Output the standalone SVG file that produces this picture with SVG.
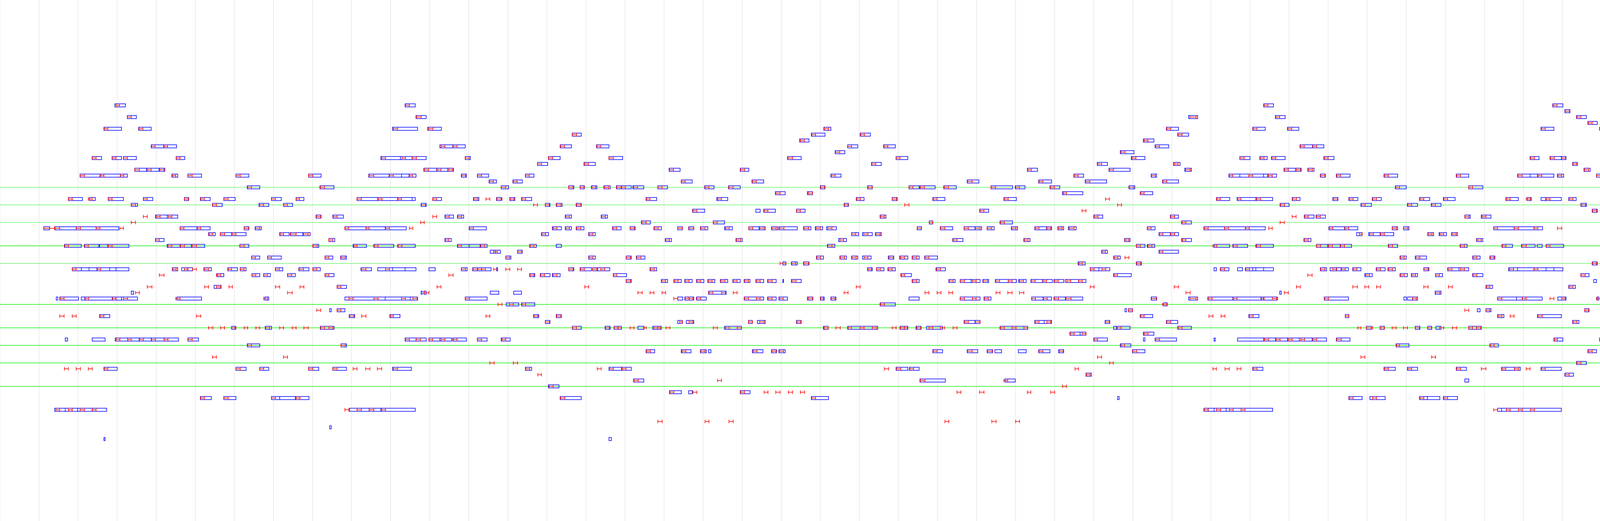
<svg xmlns="http://www.w3.org/2000/svg" width="6967" height="1335" viewBox="0 0 6967 1335">
<style>
.bg{fill:#fff}
.grid{fill:none;stroke:#e8e8e8;stroke-width:1.5}
.gl{fill:none;stroke:#22ee22;stroke-width:1}
.gh{fill:none;stroke:#11ee11;stroke-width:1.6}
.b{fill:none;stroke:#0000ff;stroke-width:1.5}
.r{fill:none;stroke:#ff0000;stroke-width:1.5;marker-start:url(#t);marker-mid:url(#t);marker-end:url(#t)}
</style>
<defs>
<marker id="t" markerUnits="userSpaceOnUse" markerWidth="4" markerHeight="10" refX="2" refY="5" overflow="visible"><path d="M2 0.5V9.5" stroke="#ff0000" stroke-width="1.5" fill="none"/></marker>
</defs>
<rect class="bg" x="0" y="0" width="6967" height="1335"/>
<g id="grid">
<path class="grid" d="M0 0V1335M100 0V1335M200 0V1335M300 0V1335M400 0V1335M500 0V1335M600 0V1335M700 0V1335M800 0V1335M900 0V1335M1000 0V1335M1100 0V1335M1200 0V1335M1300 0V1335M1400 0V1335M1500 0V1335M1600 0V1335M1700 0V1335M1800 0V1335M1900 0V1335M2000 0V1335M2100 0V1335M2200 0V1335M2300 0V1335M2400 0V1335M2500 0V1335M2600 0V1335M2700 0V1335M2800 0V1335M2900 0V1335M3000 0V1335M3100 0V1335M3200 0V1335M3300 0V1335M3400 0V1335M3500 0V1335M3600 0V1335M3700 0V1335M3800 0V1335M3900 0V1335M4000 0V1335M4100 0V1335M4200 0V1335M4300 0V1335M4400 0V1335M4500 0V1335M4600 0V1335M4700 0V1335M4800 0V1335M4900 0V1335M5000 0V1335M5100 0V1335M5200 0V1335M5300 0V1335M5400 0V1335M5500 0V1335M5600 0V1335M5700 0V1335M5800 0V1335M5900 0V1335M6000 0V1335M6100 0V1335M6200 0V1335M6300 0V1335M6400 0V1335M6500 0V1335M6600 0V1335M6700 0V1335M6800 0V1335"/>
<path class="gl" d="M0 480H6967M0 525H6967M0 570H6967M0 675H6967"/>
<path class="gh" d="M0 630H6967M0 780H6967M0 840H6967M0 885H6967M0 930H6967M0 990H6967"/>
</g>
<g id="rows">
<g id="r150" transform="translate(0,150)"><path class="b" d="M6477-4h39v8h-39z"/><path class="r" d="M6478 0h32"/></g>
<g id="r225" transform="translate(0,225)"><path class="r" d="M6478 0h32"/></g>
<g id="r270" transform="translate(0,270)"><path class="b" d="M294-4h27v8h-27zM1037-4h26v8h-26zM3235-4h25v8h-25zM3975-4h26v8h-26zM4308-4h32v8h-32zM5014-4h36v8h-36zM5753-4h36v8h-36z"/><path class="r" d="M297 0h9M1038 0h10M3236 0h10M3976 0h10M4308 0h11M5015 0h11M5753 0h11"/></g>
<g id="r285" transform="translate(0,285)"><path class="b" d="M4006-4h13v8h-13z"/><path class="r" d="M4007 0h11"/></g>
<g id="r300" transform="translate(0,300)"><path class="b" d="M326-4h23v8h-23zM1065-4h26v8h-26zM3043-4h23v8h-23zM3265-4h25v8h-25zM4036-4h25v8h-25zM4278-4h23v8h-23zM4340-4h24v8h-24zM5044-4h29v8h-29zM5783-4h41v8h-41z"/><path class="r" d="M326 0h10M1066 0h12M3046 0h16M3266 0h10M4037 0h10M4279 0h10M4340 0h10M5045 0h11M5785 0h10"/></g>
<g id="r315" transform="translate(0,315)"><path class="b" d="M4065-4h24v8h-24zM5815-4h25v8h-25zM5846-4h33v8h-33z"/><path class="r" d="M4066 0h10M5816 0h10M5847 0h10"/></g>
<g id="r330" transform="translate(0,330)"><path class="b" d="M266-4h45v8h-45zM355-4h32v8h-32zM1005-4h64v8h-64zM1095-4h35v8h-35zM2109-4h18v8h-18zM2986-4h31v8h-31zM3207-4h32v8h-32zM3296-4h29v8h-29zM3945-4h33v8h-33zM4095-4h33v8h-33zM4247-4h19v8h-19zM4982-4h33v8h-33zM5076-4h29v8h-29zM5105-4h25v8h-25zM5719-4h34v8h-34zM5876-4h22v8h-22zM6477-4h35v8h-35z"/><path class="r" d="M267 0h9M356 0h10M1007 0h11M1097 0h11M2110 0h11M2987 0h10M3208 0h10M3297 0h10M3946 0h10M4097 0h9M4248 0h10M4983 0h10M5077 0h10M5107 0h11M5720 0h9M5877 0h10M6478 0h32"/></g>
<g id="r345" transform="translate(0,345)"><path class="b" d="M1465-4h23v8h-23zM2077-4h35v8h-35zM2202-4h26v8h-26zM3015-4h28v8h-28zM4125-4h25v8h-25zM4218-4h32v8h-32zM4401-4h25v8h-25zM5135-4h30v8h-30zM5824-4h16v8h-16z"/><path class="r" d="M1465 0h11M2078 0h10M2203 0h10M3016 0h10M4126 0h10M4219 0h10M4401 0h9M5136 0h11"/></g>
<g id="r360" transform="translate(0,360)"><path class="b" d="M2047-4h24v8h-24zM2927-4h27v8h-27zM4157-4h26v8h-26z"/><path class="r" d="M2049 0h10M2929 0h10M4157 0h10"/></g>
<g id="r375" transform="translate(0,375)"><path class="b" d="M387-4h32v8h-32zM419-4h33v8h-33zM1126-4h33v8h-33zM1159-4h32v8h-32zM1434-4h29v8h-29zM1527-4h32v8h-32zM2170-4h26v8h-26zM2262-4h30v8h-30zM2957-4h35v8h-35zM3328-4h32v8h-32zM3360-4h29v8h-29zM4186-4h25v8h-25zM4297-4h14v8h-14zM4330-4h13v8h-13zM4368-4h25v8h-25zM4432-4h26v8h-26zM4801-4h21v8h-21zM5167-4h30v8h-30zM5197-4h26v8h-26zM5535-4h24v8h-24zM5908-4h27v8h-27zM5935-4h30v8h-30z"/><path class="r" d="M388 0h9M420 0h9M1129 0h10M1160 0h10M1435 0h10M1528 0h10M2170 0h10M2263 0h10M2958 0h10M3329 0h10M3361 0h10M4187 0h10M4299 0h11M4330 0h11M4369 0h11M4433 0h7M4802 0h9M5169 0h9M5198 0h10M5536 0h11M5908 0h10M5937 0h12"/></g>
<g id="r390" transform="translate(0,390)"><path class="b" d="M2138-4h25v8h-25zM2868-4h35v8h-35zM4615-4h29v8h-29zM5037-4h32v8h-32zM5350-4h26v8h-26zM5772-4h46v8h-46zM5834-4h15v8h-15z"/><path class="r" d="M2139 0h11M2870 0h10M4617 0h9M5037 0h10M5353 0h10M5773 0h11M5805 0h12M5835 0h12"/></g>
<g id="r405" transform="translate(0,405)"><path class="b" d="M236-4h24v8h-24zM287-4h24v8h-24zM316-4h33v8h-33zM451-4h22v8h-22zM975-4h50v8h-50zM1025-4h30v8h-30zM1055-4h36v8h-36zM1191-4h13v8h-13zM1404-4h30v8h-30zM1559-4h35v8h-35zM2016-4h35v8h-35zM2294-4h30v8h-30zM2896-4h35v8h-35zM3174-4h26v8h-26zM3225-4h19v8h-19zM3255-4h35v8h-35zM3389-4h26v8h-26zM3917-4h23v8h-23zM3968-4h29v8h-29zM3997-4h12v8h-12zM4585-4h30v8h-30zM4646-4h26v8h-26zM4767-4h26v8h-26zM4828-4h30v8h-30zM4954-4h25v8h-25zM5005-4h35v8h-35zM5228-4h26v8h-26zM5321-4h27v8h-27zM5382-4h30v8h-30zM5504-4h26v8h-26zM5565-4h26v8h-26zM5689-4h24v8h-24zM5739-4h18v8h-18zM5968-4h23v8h-23zM6061-4h41v8h-41z"/><path class="r" d="M236 0h10M287 0h10M316 0h10M451 0h10M977 0h10M1029 0h9M1055 0h11M1191 0h10M1404 0h11M1559 0h11M2017 0h12M2294 0h10M2898 0h10M3174 0h11M3226 0h10M3256 0h10M3390 0h10M3918 0h10M3969 0h10M3998 0h10M4586 0h9M4647 0h9M4771 0h10M4830 0h11M4955 0h9M5006 0h10M5229 0h10M5322 0h10M5383 0h10M5505 0h11M5566 0h10M5690 0h10M5740 0h12M5969 0h11M6062 0h10"/></g>
<g id="r420" transform="translate(0,420)"><path class="b" d="M1376-4h26v8h-26zM1495-4h29v8h-29zM2231-4h25v8h-25zM2809-4h26v8h-26zM3004-4h17v8h-17zM4026-4h12v8h-12zM4676-4h25v8h-25zM4860-4h23v8h-23zM5412-4h24v8h-24zM5596-4h24v8h-24zM5865-4h14v8h-14zM5895-4h16v8h-16zM6118-4h54v8h-54z"/><path class="r" d="M1376 0h10M1496 0h10M2232 0h10M2810 0h10M3007 0h9M4027 0h10M4677 0h10M4861 0h11M5413 0h11M5597 0h10M5866 0h12M5896 0h12M6119 0h10"/></g>
<g id="r435" transform="translate(0,435)"><path class="b" d="M345-4h30v8h-30zM375-4h32v8h-32zM407-4h15v8h-15zM1085-4h33v8h-33zM1118-4h28v8h-28zM1146-4h15v8h-15zM1713-4h28v8h-28zM1895-4h22v8h-22zM2630-4h26v8h-26zM2839-4h54v8h-54zM3033-4h17v8h-17zM3287-4h29v8h-29zM3316-4h15v8h-15zM3348-4h16v8h-16zM4055-4h16v8h-16zM4358-4h29v8h-29zM4707-4h23v8h-23zM4892-4h24v8h-24zM5261-4h26v8h-26zM5443-4h26v8h-26zM5626-4h26v8h-26zM6176-4h52v8h-52z"/><path class="r" d="M345 0h12M377 0h10M409 0h11M1086 0h11M1119 0h10M1149 0h10M1714 0h10M1896 0h10M2631 0h9M2840 0h10M3035 0h12M3288 0h10M3319 0h10M3349 0h11M4056 0h11M4359 0h10M4708 0h10M4893 0h9M5261 0h10M5444 0h10M5627 0h10M6177 0h10"/></g>
<g id="r450" transform="translate(0,450)"><path class="b" d="M205-4h51v8h-51zM256-4h52v8h-52zM308-4h18v8h-18zM440-4h15v8h-15zM481-4h35v8h-35zM604-4h33v8h-33zM790-4h32v8h-32zM944-4h52v8h-52zM996-4h32v8h-32zM1028-4h19v8h-19zM1047-4h18v8h-18zM1181-4h13v8h-13zM1222-4h29v8h-29zM1345-4h22v8h-22zM2127-4h26v8h-26zM2749-4h25v8h-25zM2947-4h14v8h-14zM3146-4h28v8h-28zM3174-4h61v8h-61zM3235-4h10v8h-10zM3245-4h23v8h-23zM3380-4h13v8h-13zM3421-4h35v8h-35zM3543-4h35v8h-35zM3728-4h32v8h-32zM3885-4h32v8h-32zM3917-4h19v8h-19zM3936-4h42v8h-42zM3987-4h16v8h-16zM4087-4h16v8h-16zM4176-4h35v8h-35zM4320-4h23v8h-23zM4493-4h20v8h-20zM4740-4h32v8h-32zM4922-4h32v8h-32zM4973-4h16v8h-16zM5066-4h32v8h-32zM5098-4h13v8h-13zM5289-4h26v8h-26zM5475-4h41v8h-41zM5658-4h38v8h-38zM5708-4h36v8h-36zM6234-4h51v8h-51zM6352-4h125v8h-125zM6477-4h39v8h-39zM6573-4h19v8h-19z"/><path class="r" d="M205 0h11M257 0h9M308 0h9M441 0h9M481 0h11M604 0h11M790 0h11M945 0h12M997 0h10M1048 0h8M1182 0h10M1222 0h11M1345 0h10M2128 0h10M2750 0h10M2948 0h10M3147 0h9M3197 0h10M3247 0h10M3381 0h11M3422 0h10M3544 0h10M3729 0h10M3886 0h11M3937 0h10M3988 0h10M4087 0h11M4177 0h10M4320 0h9M4494 0h10M4741 0h9M4923 0h11M4974 0h11M5067 0h11M5099 0h9M5292 0h10M5476 0h10M5659 0h10M5710 0h10M6235 0h11M6353 0h10M6478 0h32"/></g>
<g id="r465" transform="translate(0,465)"><path class="b" d="M1252-4h19v8h-19zM1313-4h24v8h-24zM1744-4h28v8h-28zM1925-4h30v8h-30zM2476-4h30v8h-30zM2659-4h33v8h-33zM2778-4h55v8h-55zM2976-4h41v8h-41zM4115-4h17v8h-17zM5127-4h16v8h-16zM5156-4h13v8h-13zM5188-4h13v8h-13zM6291-4h51v8h-51z"/><path class="r" d="M1253 0h10M1314 0h10M1744 0h10M1926 0h10M2477 0h12M2660 0h10M2779 0h11M2977 0h10M4116 0h12M5127 0h11M5157 0h10M5188 0h11M6293 0h9"/></g>
<g id="r480" transform="translate(0,480)"><path class="b" d="M633-4h32v8h-32zM819-4h36v8h-36zM1283-4h19v8h-19zM1456-4h13v8h-13zM1485-4h11v8h-11zM1514-4h14v8h-14zM1546-4h16v8h-16zM1578-4h13v8h-13zM1591-4h25v8h-25zM1620-4h28v8h-28zM1684-4h25v8h-25zM1804-4h24v8h-24zM1865-4h30v8h-30zM2100-4h12v8h-12zM2221-4h12v8h-12zM2327-4h26v8h-26zM2355-4h39v8h-39zM2416-4h32v8h-32zM2537-4h55v8h-55zM2599-4h25v8h-25zM2688-4h25v8h-25zM2890-4h15v8h-15zM3572-4h28v8h-28zM3760-4h36v8h-36zM4147-4h17v8h-17zM4208-4h13v8h-13zM4237-4h19v8h-19zM4266-4h21v8h-21zM4287-4h18v8h-18zM4349-4h15v8h-15zM4391-4h12v8h-12zM4419-4h17v8h-17zM4452-4h9v8h-9zM4461-4h23v8h-23zM5218-4h14v8h-14z"/><path class="r" d="M634 0h10M820 0h11M1283 0h12M1456 0h11M1485 0h10M1515 0h10M1547 0h11M1579 0h11M1591 0h10M1622 0h10M1684 0h11M1805 0h10M1866 0h11M2101 0h10M2222 0h11M2327 0h10M2356 0h10M2417 0h11M2537 0h12M2600 0h10M2689 0h10M2891 0h11M3573 0h10M3760 0h10M4148 0h10M4208 0h11M4238 0h10M4267 0h10M4289 0h11M4350 0h8M4391 0h10M4420 0h12M4452 0h9M4462 0h10M5220 0h9"/></g>
<g id="r495" transform="translate(0,495)"><path class="b" d="M1985-4h25v8h-25zM2067-4h13v8h-13zM2720-4h52v8h-52zM2919-4h32v8h-32z"/><path class="r" d="M1986 0h11M2069 0h11M2722 0h8M2920 0h9"/></g>
<g id="r510" transform="translate(0,510)"><path class="b" d="M175-4h36v8h-36zM229-4h15v8h-15zM277-4h39v8h-39zM367-4h24v8h-24zM472-4h11v8h-11zM513-4h25v8h-25zM573-4h29v8h-29zM695-4h25v8h-25zM758-4h20v8h-20zM914-4h53v8h-53zM967-4h51v8h-51zM1018-4h37v8h-37zM1055-4h8v8h-8zM1108-4h22v8h-22zM1212-4h14v8h-14zM1271-4h12v8h-12zM1305-4h13v8h-13zM1335-4h26v8h-26zM1654-4h27v8h-27zM1835-4h28v8h-28zM2192-4h20v8h-20zM2284-4h13v8h-13zM2388-4h31v8h-31zM2570-4h32v8h-32zM3115-4h33v8h-33zM3167-4h48v8h-48zM3215-4h43v8h-43zM3308-4h20v8h-20zM3412-4h13v8h-13zM3453-4h23v8h-23zM3513-4h23v8h-23zM3634-4h26v8h-26zM3695-4h30v8h-30zM3855-4h32v8h-32zM3910-4h10v8h-10zM3945-4h12v8h-12zM3957-4h40v8h-40zM4016-4h19v8h-19zM4287-4h14v8h-14zM4320-4h10v8h-10zM4554-4h26v8h-26zM4605-4h15v8h-15zM4634-4h16v8h-16zM4761-4h11v8h-11zM4788-4h15v8h-15zM4820-4h16v8h-16zM4945-4h12v8h-12zM4995-4h23v8h-23zM5340-4h14v8h-14zM5372-4h13v8h-13zM5496-4h12v8h-12zM5524-4h16v8h-16zM5556-4h16v8h-16zM5680-4h20v8h-20zM5729-4h28v8h-28zM5929-4h20v8h-20zM5959-4h12v8h-12zM5988-4h16v8h-16zM6031-4h90v8h-90zM6148-4h28v8h-28zM6205-4h25v8h-25zM6265-4h22v8h-22zM6323-4h33v8h-33zM6384-4h93v8h-93zM6477-4h39v8h-39z"/><path class="r" d="M175 0h10M226 0h10M277 0h10M367 0h10M472 0h10M514 0h9M573 0h11M695 0h10M758 0h9M914 0h11M968 0h10M1019 0h9M1108 0h10M1213 0h10M1244 0h10M1272 0h13M1306 0h10M1336 0h10M1655 0h9M1837 0h10M2193 0h10M2284 0h11M2389 0h10M2571 0h10M2830 0h10M3114 0h10M3168 0h9M3217 0h10M3309 0h10M3413 0h11M3454 0h10M3514 0h10M3635 0h10M3696 0h10M3856 0h10M3907 0h11M3958 0h10M4017 0h10M4288 0h12M4320 0h9M4349 0h10M4555 0h10M4606 0h10M4636 0h11M4761 0h10M4789 0h11M4821 0h10M4945 0h10M4996 0h10M5312 0h11M5342 0h11M5373 0h11M5496 0h10M5525 0h11M5557 0h10M5681 0h10M5729 0h12M5930 0h10M5960 0h11M5989 0h11M6032 0h10M6090 0h10M6149 0h9M6206 0h10M6266 0h9M6324 0h9M6385 0h31M6478 0h32"/></g>
<g id="r525" transform="translate(0,525)"><path class="b" d="M336-4h16v8h-16zM544-4h25v8h-25zM663-4h25v8h-25zM726-4h23v8h-23zM1078-4h13v8h-13zM1396-4h12v8h-12zM1424-4h15v8h-15zM1475-4h13v8h-13zM2161-4h11v8h-11zM3277-4h23v8h-23zM3484-4h27v8h-27zM3603-4h26v8h-26zM3664-4h25v8h-25zM4047-4h14v8h-14zM4409-4h17v8h-17zM4522-4h26v8h-26zM4697-4h8v8h-8zM4727-4h9v8h-9zM4851-4h11v8h-11zM4881-4h12v8h-12zM4913-4h9v8h-9zM5027-4h17v8h-17zM5055-4h20v8h-20zM5282-4h7v8h-7zM5404-4h10v8h-10zM5434-4h10v8h-10zM5463-4h12v8h-12zM5587-4h10v8h-10zM5616-4h11v8h-11zM5645-4h10v8h-10zM5764-4h18v8h-18zM5796-4h18v8h-18zM5825-4h18v8h-18zM6000-4h25v8h-25z"/><path class="r" d="M336 0h11M544 0h10M664 0h11M726 0h10M1079 0h10M1366 0h10M1396 0h10M1425 0h11M1476 0h11M2162 0h9M2316 0h11M2861 0h10M3278 0h10M3485 0h10M3604 0h10M3665 0h10M4048 0h11M4410 0h10M4523 0h10M4667 0h11M4697 0h11M4727 0h13M4851 0h11M4881 0h12M4913 0h10M5281 0h12M5404 0h10M5434 0h10M5463 0h12M5587 0h10M5617 0h11M5645 0h14M5764 0h10M5797 0h10M5825 0h11M6000 0h10"/></g>
<g id="r540" transform="translate(0,540)"><path class="b" d="M1773-4h31v8h-31zM1935-4h11v8h-11zM1955-4h30v8h-30zM2039-4h22v8h-22zM2508-4h23v8h-23zM4076-4h13v8h-13zM5855-4h20v8h-20z"/><path class="r" d="M1774 0h10M1956 0h10M2039 0h10M2509 0h10M2770 0h10M4077 0h10M5856 0h10"/></g>
<g id="r555" transform="translate(0,555)"><path class="b" d="M398-4h30v8h-30zM428-4h27v8h-27zM809-4h13v8h-13zM852-4h27v8h-27zM1139-4h22v8h-22zM1171-4h16v8h-16zM1447-4h16v8h-16zM1539-4h16v8h-16zM2253-4h15v8h-15zM2800-4h23v8h-23zM2996-4h21v8h-21zM3339-4h25v8h-25zM3369-4h24v8h-24zM3750-4h14v8h-14zM3792-4h25v8h-25zM4105-4h23v8h-23zM4199-4h16v8h-16zM4228-4h22v8h-22zM4256-4h20v8h-20zM4381-4h12v8h-12zM4441-4h13v8h-13zM4482-4h13v8h-13zM4509-4h14v8h-14zM5084-4h26v8h-26zM5116-4h17v8h-17zM5178-4h13v8h-13zM5251-4h13v8h-13zM5888-4h22v8h-22z"/><path class="r" d="M367 0h10M400 0h10M431 0h9M810 0h11M853 0h10M1108 0h10M1140 0h10M1172 0h10M1448 0h10M1540 0h10M2254 0h10M2801 0h10M2997 0h10M3308 0h10M3340 0h9M3370 0h10M3750 0h11M3794 0h10M4106 0h10M4199 0h10M4229 0h10M4257 0h11M4381 0h11M4442 0h11M4484 0h10M4510 0h11M5085 0h10M5117 0h10M5179 0h10M5252 0h11M5888 0h10"/></g>
<g id="r570" transform="translate(0,570)"><path class="b" d="M1642-4h23v8h-23zM1826-4h29v8h-29zM2379-4h9v8h-9zM2560-4h32v8h-32zM3025-4h25v8h-25zM4137-4h13v8h-13zM5148-4h13v8h-13z"/><path class="r" d="M336 0h11M1077 0h9M1643 0h11M1826 0h10M2379 0h9M2561 0h10M3026 0h10M3277 0h11M4138 0h10M5149 0h10"/></g>
<g id="r585" transform="translate(0,585)"><path class="b" d="M112-4h15v8h-15zM140-4h55v8h-55zM195-4h51v8h-51zM246-4h58v8h-58zM461-4h43v8h-43zM504-4h34v8h-34zM625-4h12v8h-12zM653-4h16v8h-16zM883-4h54v8h-54zM937-4h49v8h-49zM986-4h54v8h-54zM1201-4h44v8h-44zM1414-4h23v8h-23zM1447-4h16v8h-16zM1475-4h20v8h-20zM1568-4h22v8h-22zM1613-4h13v8h-13zM1674-4h19v8h-19zM1735-4h12v8h-12zM1763-4h13v8h-13zM1793-4h19v8h-19zM1855-4h20v8h-20zM1917-4h26v8h-26zM1943-4h16v8h-16zM1975-4h16v8h-16zM1994-4h47v8h-47zM2057-4h19v8h-19zM2087-4h19v8h-19zM2116-4h25v8h-25zM2348-4h11v8h-11zM2407-4h32v8h-32zM2468-4h28v8h-28zM2496-4h17v8h-17zM2527-4h18v8h-18zM2589-4h16v8h-16zM2649-4h30v8h-30zM2679-4h13v8h-13zM2708-4h15v8h-15zM2735-4h20v8h-20zM2937-4h20v8h-20zM3082-4h53v8h-53zM3135-4h53v8h-53zM3188-4h51v8h-51zM3402-4h40v8h-40zM3442-4h34v8h-34zM3564-4h14v8h-14zM3593-4h14v8h-14zM3824-4h52v8h-52zM3876-4h51v8h-51zM3927-4h22v8h-22zM4171-4h15v8h-15zM4543-4h17v8h-17zM4570-4h38v8h-38zM5699-4h23v8h-23zM5979-4h17v8h-17zM6021-4h29v8h-29zM6050-4h27v8h-27zM6077-4h32v8h-32zM6109-4h29v8h-29zM6138-4h29v8h-29zM6167-4h13v8h-13zM6196-4h29v8h-29zM6225-4h29v8h-29zM6254-4h29v8h-29zM6283-4h73v8h-73zM6371-4h45v8h-45zM6477-4h41v8h-41z"/><path class="r" d="M112 0h28M141 0h12M195 0h11M246 0h10M307 0h9M461 0h10M505 0h9M625 0h11M654 0h11M883 0h10M937 0h8M987 0h10M1048 0h9M1202 0h10M1416 0h10M1448 0h10M1476 0h11M1569 0h10M1613 0h11M1675 0h10M1735 0h12M1764 0h12M1794 0h11M1857 0h10M1917 0h10M1945 0h11M1976 0h11M1995 0h12M2058 0h12M2089 0h11M2119 0h11M2348 0h11M2408 0h11M2468 0h11M2497 0h12M2527 0h12M2590 0h11M2650 0h10M2680 0h10M2709 0h10M2737 0h13M2937 0h10M3083 0h10M3135 0h10M3188 0h10M3248 0h9M3403 0h9M3443 0h10M3564 0h11M3593 0h11M3824 0h10M3876 0h11M3927 0h10M3987 0h11M4168 0h10M4544 0h9M4571 0h12M5699 0h11M5980 0h11M6021 0h10M6051 0h10M6080 0h10M6110 0h10M6139 0h10M6168 0h10M6197 0h9M6226 0h9M6256 0h9M6285 0h9M6314 0h10M6343 0h10M6372 0h12M6478 0h32"/></g>
<g id="r600" transform="translate(0,600)"><path class="b" d="M534-4h17v8h-17zM564-4h29v8h-29zM593-4h37v8h-37zM716-4h24v8h-24zM743-4h32v8h-32zM775-4h19v8h-19zM1386-4h18v8h-18zM1507-4h17v8h-17zM2180-4h18v8h-18zM2208-4h25v8h-25zM2241-4h15v8h-15zM2967-4h29v8h-29zM2996-4h21v8h-21zM3473-4h14v8h-14zM3504-4h29v8h-29zM3533-4h35v8h-35zM3655-4h15v8h-15zM3684-4h19v8h-19zM3716-4h15v8h-15zM5916-4h16v8h-16zM5946-4h22v8h-22z"/><path class="r" d="M535 0h10M564 0h11M594 0h10M717 0h9M744 0h14M777 0h12M1387 0h10M1508 0h10M2180 0h11M2211 0h11M2242 0h11M2968 0h9M2997 0h10M3480 0h7M3506 0h10M3534 0h10M3656 0h10M3686 0h10M3717 0h11M5917 0h11M5947 0h11"/></g>
<g id="r615" transform="translate(0,615)"><path class="b" d="M398-4h22v8h-22zM842-4h15v8h-15zM1139-4h16v8h-16zM1703-4h16v8h-16zM1884-4h16v8h-16zM2147-4h20v8h-20zM2439-4h26v8h-26zM2621-4h16v8h-16zM2879-4h14v8h-14zM3025-4h25v8h-25zM3338-4h18v8h-18zM3780-4h16v8h-16zM4137-4h13v8h-13zM4199-4h12v8h-12zM4228-4h28v8h-28zM4256-4h22v8h-22zM4297-4h14v8h-14zM4327-4h6v8h-6zM4358-4h14v8h-14zM4377-4h16v8h-16zM4409-4h17v8h-17zM4436-4h18v8h-18zM4656-4h20v8h-20zM4687-4h30v8h-30zM4717-4h15v8h-15zM4842-4h16v8h-16zM4871-4h22v8h-22zM4899-4h20v8h-20zM5210-4h12v8h-12zM5393-4h21v8h-21zM5420-4h26v8h-26zM5453-4h16v8h-16zM5575-4h19v8h-19zM5607-4h19v8h-19zM5636-4h19v8h-19z"/><path class="r" d="M398 0h10M842 0h10M1140 0h9M1704 0h10M1885 0h11M2150 0h10M2440 0h10M2622 0h10M2880 0h10M3027 0h9M3339 0h10M3781 0h11M4138 0h10M4200 0h10M4229 0h10M4259 0h10M4299 0h11M4327 0h12M4359 0h12M4378 0h11M4410 0h10M4437 0h16M4657 0h10M4688 0h10M4718 0h12M4843 0h10M4872 0h10M4900 0h11M5211 0h9M5394 0h10M5424 0h10M5454 0h11M5576 0h10M5608 0h10M5637 0h10"/></g>
<g id="r630" transform="translate(0,630)"><path class="b" d="M165-4h43v8h-43zM216-4h37v8h-37zM255-4h21v8h-21zM276-4h54v8h-54zM428-4h33v8h-33zM461-4h29v8h-29zM490-4h34v8h-34zM614-4h23v8h-23zM801-4h15v8h-15zM904-4h34v8h-34zM957-4h51v8h-51zM1018-4h45v8h-45zM1171-4h30v8h-30zM1201-4h28v8h-28zM1229-4h18v8h-18zM1356-4h17v8h-17zM1424-4h13v8h-13zM2118-4h19v8h-19zM2909-4h22v8h-22zM2937-4h19v8h-19zM3108-4h40v8h-40zM3156-4h38v8h-38zM3215-4h45v8h-45zM3370-4h29v8h-29zM3399-4h32v8h-32zM3431-4h29v8h-29zM3554-4h24v8h-24zM3738-4h18v8h-18zM3845-4h27v8h-27zM3895-4h35v8h-35zM3935-4h13v8h-13zM3958-4h45v8h-45zM4594-4h24v8h-24zM4627-4h17v8h-17zM4748-4h24v8h-24zM4778-4h25v8h-25zM4809-4h24v8h-24zM4932-4h32v8h-32zM4964-4h21v8h-21zM5240-4h17v8h-17zM5332-4h22v8h-22zM5363-4h16v8h-16zM5485-4h29v8h-29zM5514-4h26v8h-26zM5546-4h19v8h-19zM5670-4h33v8h-33zM5731-4h3v8h-3zM6477-4h39v8h-39zM6569-4h158v8h-158z"/><path class="r" d="M166 0h9M217 0h9M277 0h10M430 0h10M462 0h10M492 0h11M614 0h11M801 0h11M906 0h8M958 0h10M1019 0h10M1172 0h9M1231 0h10M1357 0h10M2119 0h11M2909 0h10M2939 0h10M3105 0h10M3157 0h10M3217 0h10M3370 0h11M3401 0h10M3432 0h10M3555 0h10M3739 0h10M3846 0h9M3896 0h11M3958 0h10M4595 0h10M4628 0h10M4750 0h10M4779 0h11M4811 0h10M4933 0h11M4965 0h10M5239 0h11M5333 0h10M5364 0h10M5486 0h10M5516 0h10M5547 0h10M5671 0h10M6478 0h32M6573 0h94"/></g>
<g id="r645" transform="translate(0,645)"><path class="b" d="M1255-4h13v8h-13zM1268-4h13v8h-13zM1325-4h12v8h-12zM2821-4h14v8h-14zM2967-4h50v8h-50zM4108-4h16v8h-16z"/><path class="r" d="M1263 0h10M1325 0h11M2820 0h10M2968 0h9M4109 0h8"/></g>
<g id="r660" transform="translate(0,660)"><path class="b" d="M644-4h21v8h-21zM685-4h35v8h-35zM832-4h20v8h-20zM872-4h15v8h-15zM1295-4h13v8h-13zM1507-4h17v8h-17zM1603-4h13v8h-13zM1629-4h22v8h-22zM2090-4h18v8h-18zM2150-4h17v8h-17zM2180-4h16v8h-16zM2208-4h22v8h-22zM2274-4h14v8h-14zM2303-4h21v8h-21zM2335-4h18v8h-18zM2367-4h33v8h-33zM2851-4h17v8h-17zM3584-4h16v8h-16zM3623-4h29v8h-29zM3770-4h19v8h-19zM3814-4h13v8h-13zM4208-4h13v8h-13zM4237-4h13v8h-13zM4266-4h15v8h-15zM4391-4h12v8h-12zM4419-4h17v8h-17zM4473-4h14v8h-14zM4502-4h20v8h-20zM5027-4h10v8h-10zM5270-4h17v8h-17z"/><path class="r" d="M644 0h10M685 0h10M832 0h10M873 0h11M1295 0h10M1508 0h10M1603 0h11M1630 0h11M2091 0h10M2151 0h11M2181 0h11M2212 0h10M2276 0h11M2305 0h11M2336 0h11M2368 0h10M2852 0h10M2880 0h10M3585 0h10M3624 0h11M3771 0h10M3815 0h10M4209 0h11M4238 0h10M4267 0h11M4392 0h10M4420 0h12M4474 0h11M4503 0h10M5027 0h10M5056 0h10M5271 0h10"/></g>
<g id="r675" transform="translate(0,675)"><path class="b" d="M2004-4h8v8h-8zM2026-4h15v8h-15zM2057-4h14v8h-14zM2760-4h18v8h-18zM2909-4h13v8h-13zM4076-4h13v8h-13zM5837-4h3v8h-3z"/><path class="r" d="M1997 0h15M2027 0h10M2058 0h12M2762 0h9M2910 0h10M4077 0h10M4177 0h11"/></g>
<g id="r690" transform="translate(0,690)"><path class="b" d="M185-4h23v8h-23zM208-4h20v8h-20zM228-4h20v8h-20zM248-4h33v8h-33zM281-4h16v8h-16zM297-4h33v8h-33zM441-4h14v8h-14zM465-4h16v8h-16zM481-4h12v8h-12zM522-4h19v8h-19zM583-4h25v8h-25zM615-4h15v8h-15zM705-4h19v8h-19zM765-4h26v8h-26zM801-4h19v8h-19zM924-4h27v8h-27zM967-4h38v8h-38zM1005-4h32v8h-32zM1037-4h28v8h-28zM1098-4h16v8h-16zM1181-4h15v8h-15zM1210-4h47v8h-47zM1271-4h3v8h-3zM1456-4h13v8h-13zM1485-4h29v8h-29zM1517-4h13v8h-13zM1530-4h31v8h-31zM1664-4h17v8h-17zM2221-4h12v8h-12zM2244-4h19v8h-19zM2273-4h19v8h-19zM2396-4h24v8h-24zM2791-4h22v8h-22zM2813-4h28v8h-28zM3108-4h6v8h-6zM3124-4h22v8h-22zM3168-4h13v8h-13zM3188-4h19v8h-19zM3207-4h8v8h-8zM3215-4h20v8h-20zM3235-4h25v8h-25zM3380-4h16v8h-16zM3405-4h16v8h-16zM3421-4h12v8h-12zM3433-4h19v8h-19zM3463-4h21v8h-21zM3523-4h23v8h-23zM3553-4h19v8h-19zM3645-4h13v8h-13zM3706-4h29v8h-29zM3735-4h25v8h-25zM3862-4h23v8h-23zM3885-4h42v8h-42zM3927-4h31v8h-31zM3958-4h20v8h-20zM3978-4h23v8h-23zM4308-4h32v8h-32zM4452-4h12v8h-12zM4477-4h12v8h-12zM4564-4h31v8h-31zM4605-4h10v8h-10zM5084-4h26v8h-26zM5116-4h17v8h-17zM5146-4h15v8h-15zM5178-4h16v8h-16zM5299-4h41v8h-41zM5340-4h17v8h-17zM5497-4h19v8h-19zM5524-4h12v8h-12zM5740-4h8v8h-8zM5916-4h16v8h-16zM5946-4h22v8h-22zM5979-4h22v8h-22zM6041-4h30v8h-30zM6071-4h15v8h-15zM6086-4h42v8h-42zM6128-4h52v8h-52zM6186-4h51v8h-51zM6243-4h52v8h-52zM6300-4h80v8h-80zM6380-4h132v8h-132zM6569-4h158v8h-158z"/><path class="r" d="M185 0h10M249 0h9M442 0h9M472 0h9M493 0h10M523 0h11M584 0h9M615 0h10M705 0h10M766 0h11M801 0h10M925 0h12M987 0h10M1181 0h11M1211 0h11M1223 0h10M1233 0h10M1264 0h10M1295 0h10M1325 0h10M1456 0h11M1486 0h10M1517 0h11M1538 0h10M1665 0h10M2222 0h9M2244 0h10M2274 0h10M2398 0h10M2791 0h10M2821 0h10M3125 0h10M3189 0h10M3381 0h11M3412 0h10M3434 0h10M3464 0h10M3524 0h10M3554 0h11M3645 0h11M3707 0h10M3739 0h10M3864 0h11M3927 0h10M4308 0h11M4452 0h11M4473 0h10M4564 0h11M5085 0h10M5117 0h10M5146 0h10M5179 0h10M5302 0h11M5918 0h11M5948 0h11M5980 0h10M6042 0h12M6072 0h10M6100 0h10M6130 0h9M6157 0h10M6187 0h10M6215 0h10M6245 0h10M6274 0h10M6304 0h10M6333 0h10M6363 0h10M6573 0h94"/></g>
<g id="r705" transform="translate(0,705)"><path class="b" d="M556-4h17v8h-17zM645-4h20v8h-20zM675-4h17v8h-17zM736-4h20v8h-20zM832-4h23v8h-23zM1356-4h13v8h-13zM1383-4h25v8h-25zM1414-4h20v8h-20zM1570-4h34v8h-34zM2307-4h26v8h-26zM2851-4h45v8h-45zM3494-4h19v8h-19zM3584-4h19v8h-19zM3613-4h16v8h-16zM3675-4h18v8h-18zM3770-4h26v8h-26zM4047-4h21v8h-21zM4150-4h33v8h-33zM4502-4h20v8h-20zM4528-4h26v8h-26zM5232-4h22v8h-22zM6009-4h16v8h-16z"/><path class="r" d="M408 0h12M554 0h11M645 0h10M675 0h10M736 0h11M832 0h10M1149 0h11M1357 0h10M1384 0h10M1416 0h10M1570 0h9M2306 0h10M2852 0h9M3348 0h11M3496 0h10M3585 0h10M3614 0h10M3675 0h10M3771 0h10M4047 0h11M4147 0h10M4503 0h10M4533 0h10M5210 0h10M5239 0h11M6010 0h10"/></g>
<g id="r720" transform="translate(0,720)"><path class="b" d="M1603-4h13v8h-13zM1693-4h16v8h-16zM1725-4h19v8h-19zM1753-4h19v8h-19zM1783-4h19v8h-19zM1812-4h18v8h-18zM1844-4h19v8h-19zM1876-4h19v8h-19zM1905-4h15v8h-15zM1935-4h20v8h-20zM1965-4h22v8h-22zM2004-4h2v8h-2zM2026-4h25v8h-25zM2335-4h18v8h-18zM2429-4h16v8h-16zM2458-4h28v8h-28zM2486-4h23v8h-23zM2516-4h15v8h-15zM2548-4h33v8h-33zM2581-4h21v8h-21zM2608-4h19v8h-19zM2639-4h30v8h-30zM2669-4h25v8h-25zM2698-4h25v8h-25zM2727-4h34v8h-34zM2761-4h19v8h-19zM4080-4h7v8h-7z"/><path class="r" d="M1603 0h11M1694 0h10M1726 0h10M1754 0h10M1784 0h10M1813 0h10M1845 0h11M1877 0h10M1906 0h10M1936 0h10M1966 0h11M2027 0h11M2336 0h11M2430 0h10M2458 0h11M2489 0h10M2517 0h11M2549 0h10M2581 0h10M2610 0h10M2640 0h10M2670 0h9M2699 0h10M2731 0h10M2761 0h10"/></g>
<g id="r735" transform="translate(0,735)"><path class="b" d="M548-4h18v8h-18zM863-4h24v8h-24zM3804-4h17v8h-17zM4016-4h17v8h-17zM4218-4h26v8h-26zM4401-4h25v8h-25z"/><path class="r" d="M377 0h12M524 0h10M554 0h11M586 0h9M705 0h11M768 0h10M863 0h10M1119 0h10M1497 0h10M2192 0h10M2791 0h10M3006 0h11M3319 0h10M3463 0h12M3494 0h10M3524 0h10M3645 0h11M3708 0h10M3805 0h9M4017 0h10M4117 0h10M4219 0h10M4401 0h9M5888 0h10"/></g>
<g id="r750" transform="translate(0,750)"><path class="b" d="M336-4h6v8h-6zM1078-4h3v8h-3zM1085-4h6v8h-6zM1255-4h22v8h-22zM1315-4h20v8h-20zM1814-4h45v8h-45zM3276-4h4v8h-4zM3674-4h15v8h-15zM5764-4h10v8h-10zM5825-4h11v8h-11z"/><path class="r" d="M347 0h10M736 0h12M1086 0h12M1633 0h11M1664 0h10M1695 0h9M1815 0h10M1847 0h10M1877 0h10M2161 0h10M2368 0h10M2399 0h10M2429 0h10M2550 0h10M2580 0h11M2610 0h11M3036 0h11M3288 0h10M3675 0h11M5037 0h10M5066 0h10M5765 0h10M5796 0h10M5825 0h12"/></g>
<g id="r765" transform="translate(0,765)"><path class="b" d="M144-4h4v8h-4zM153-4h48v8h-48zM208-4h9v8h-9zM217-4h71v8h-71zM288-4h9v8h-9zM297-4h14v8h-14zM311-4h41v8h-41zM453-4h63v8h-63zM678-4h10v8h-10zM883-4h103v8h-103zM986-4h64v8h-64zM1050-4h19v8h-19zM1191-4h56v8h-56zM1735-4h13v8h-13zM1753-4h23v8h-23zM1783-4h25v8h-25zM1905-4h50v8h-50zM1965-4h22v8h-22zM1994-4h22v8h-22zM2067-4h14v8h-14zM2100-4h10v8h-10zM2127-4h13v8h-13zM2327-4h26v8h-26zM2458-4h51v8h-51zM2519-4h18v8h-18zM2641-4h29v8h-29zM2670-4h22v8h-22zM2698-4h29v8h-29zM2727-4h45v8h-45zM2947-4h14v8h-14zM3043-4h23v8h-23zM3092-4h64v8h-64zM3156-4h72v8h-72zM3228-4h7v8h-7zM3235-4h35v8h-35zM3390-4h62v8h-62zM3594-4h6v8h-6zM3603-4h13v8h-13zM3616-4h13v8h-13zM3834-4h48v8h-48zM3882-4h15v8h-15zM3897-4h51v8h-51zM3988-4h21v8h-21zM4089-4h4v8h-4zM4570-4h15v8h-15zM4594-4h21v8h-21zM4627-4h17v8h-17zM4695-4h12v8h-12zM4742-4h25v8h-25zM4778-4h19v8h-19zM4810-4h23v8h-23zM4871-4h18v8h-18zM4932-4h18v8h-18zM4964-4h19v8h-19zM4994-4h21v8h-21zM5270-4h17v8h-17zM5332-4h22v8h-22zM5364-4h15v8h-15zM5485-4h29v8h-29zM5514-4h18v8h-18zM5546-4h21v8h-21zM5636-4h19v8h-19zM5670-4h29v8h-29zM5699-4h32v8h-32zM5731-4h23v8h-23zM6022-4h6v8h-6zM6077-4h25v8h-25zM6102-4h19v8h-19zM6130-4h39v8h-39zM6187-4h53v8h-53zM6243-4h52v8h-52zM6307-4h173v8h-173zM6573-4h151v8h-151z"/><path class="r" d="M154 0h10M218 0h9M287 0h10M316 0h11M450 0h11M675 0h10M893 0h11M957 0h11M1028 0h10M1057 0h11M1191 0h11M1725 0h10M1754 0h10M1764 0h10M1784 0h10M1906 0h10M1936 0h10M1966 0h11M1995 0h10M2069 0h11M2101 0h7M2128 0h10M2458 0h11M2489 0h10M2520 0h10M2641 0h10M2671 0h10M2699 0h11M2729 0h13M2948 0h12M3046 0h16M3093 0h10M3157 0h10M3229 0h7M3257 0h11M3391 0h10M3616 0h10M3834 0h11M3897 0h10M3968 0h10M3998 0h9M4087 0h10M4533 0h11M4595 0h10M4628 0h10M4689 0h10M4719 0h11M4743 0h11M4756 0h10M4779 0h11M4811 0h10M4872 0h10M4904 0h10M4933 0h11M4965 0h10M4995 0h10M5271 0h10M5333 0h10M5364 0h10M5425 0h9M5455 0h10M5516 0h11M5546 0h10M5607 0h10M5637 0h11M5671 0h10M5700 0h11M5732 0h10M6072 0h10M6131 0h8M6188 0h9M6245 0h11M6308 0h6M6365 0h9M6573 0h94"/></g>
<g id="r780" transform="translate(0,780)"><path class="b" d="M1296-4h32v8h-32zM1335-4h34v8h-34zM2253-4h39v8h-39zM2979-4h9v8h-9z"/><path class="r" d="M1275 0h10M1304 0h10M1336 0h10M2254 0h10M2976 0h11"/></g>
<g id="r795" transform="translate(0,795)"><path class="b" d="M844-4h4v8h-4zM863-4h20v8h-20zM2880-4h4v8h-4zM2889-4h10v8h-10zM3782-4h7v8h-7zM3804-4h13v8h-13zM4057-4h11v8h-11zM4186-4h25v8h-25zM4247-4h29v8h-29zM4297-4h10v8h-10zM4340-4h24v8h-24zM4432-4h4v8h-4zM4656-4h16v8h-16zM4842-4h12v8h-12zM5282-4h14v8h-14zM5393-4h15v8h-15zM5574-4h20v8h-20zM6009-4h17v8h-17z"/><path class="r" d="M811 0h10M863 0h10M2889 0h10M3750 0h10M3804 0h10M4057 0h10M4186 0h12M4248 0h10M4340 0h10M4482 0h11M4512 0h11M4543 0h11M4657 0h11M4842 0h11M5220 0h9M5249 0h11M5283 0h11M5394 0h11M5575 0h11M6010 0h10"/></g>
<g id="r810" transform="translate(0,810)"><path class="b" d="M255-4h26v8h-26zM894-4h14v8h-14zM998-4h26v8h-26zM1366-4h13v8h-13zM1424-4h13v8h-13zM2919-4h32v8h-32zM3197-4h26v8h-26zM3444-4h9v8h-9zM3834-4h16v8h-16zM3936-4h61v8h-61zM4493-4h6v8h-6zM4565-4h15v8h-15zM5232-4h4v8h-4zM5299-4h55v8h-55zM5766-4h3v8h-3zM5804-4h14v8h-14zM5993-4h8v8h-8zM6044-4h21v8h-21zM6101-4h14v8h-14zM6157-4h16v8h-16zM6214-4h14v8h-14zM6272-4h7v8h-7zM6573-4h151v8h-151z"/><path class="r" d="M153 0h11M185 0h10M256 0h10M503 0h11M895 0h11M926 0h11M999 0h8M1244 0h10M1367 0h10M1425 0h11M2920 0h9M3095 0h10M3126 0h10M3198 0h10M3444 0h9M3835 0h10M3866 0h10M3937 0h11M4567 0h10M5098 0h10M5302 0h11M5990 0h11M6042 0h9M6100 0h10M6158 0h10M6216 0h10M6273 0h12M6333 0h10M6573 0h94"/></g>
<g id="r825" transform="translate(0,825)"><path class="b" d="M1396-4h12v8h-12zM1735-4h12v8h-12zM1757-4h19v8h-19zM1916-4h10v8h-10zM1939-4h20v8h-20zM2039-4h12v8h-12zM2468-4h28v8h-28zM2496-4h13v8h-13zM2649-4h24v8h-24zM2673-4h19v8h-19zM2829-4h12v8h-12zM2986-4h29v8h-29zM4026-4h16v8h-16zM5127-4h12v8h-12zM5156-4h13v8h-13zM5185-4h16v8h-16zM5953-4h18v8h-18z"/><path class="r" d="M1396 0h11M1740 0h7M1764 0h10M1916 0h10M1945 0h11M2040 0h10M2469 0h10M2497 0h12M2650 0h10M2680 0h10M2830 0h10M2987 0h10M4027 0h10M5127 0h11M5157 0h10M5186 0h11M5929 0h11M5959 0h10"/></g>
<g id="r840" transform="translate(0,840)"><path class="b" d="M593-4h9v8h-9zM679-4h16v8h-16zM820-4h35v8h-35zM1465-4h23v8h-23zM1549-4h13v8h-13zM1572-4h19v8h-19zM1633-4h15v8h-15zM1671-4h22v8h-22zM1855-4h43v8h-43zM2108-4h12v8h-12zM2170-4h77v8h-77zM2304-4h20v8h-20zM2345-4h13v8h-13zM2372-4h41v8h-41zM2560-4h71v8h-71zM2851-4h7v8h-7zM2858-4h35v8h-35zM3015-4h35v8h-35zM3498-4h13v8h-13zM3533-4h11v8h-11zM3623-4h12v8h-12zM3655-4h10v8h-10zM3676-4h13v8h-13zM3760-4h20v8h-20zM3780-4h12v8h-12zM4127-4h13v8h-13zM4278-4h29v8h-29zM4493-4h20v8h-20zM5056-4h6v8h-6zM5805-4h10v8h-10zM5898-4h12v8h-12z"/><path class="r" d="M534 0h11M565 0h10M593 0h11M625 0h9M655 0h10M680 0h10M716 0h10M748 0h10M778 0h11M821 0h10M842 0h10M1465 0h11M1550 0h10M1572 0h10M1582 0h9M1613 0h10M1649 0h5M1674 0h10M1684 0h6M1705 0h10M1826 0h10M1857 0h10M1887 0h11M2110 0h10M2140 0h11M2171 0h9M2202 0h10M2233 0h10M2284 0h10M2305 0h10M2315 0h8M2347 0h10M2378 0h10M2407 0h11M2440 0h10M2561 0h10M2591 0h10M2621 0h10M2860 0h10M3016 0h10M3476 0h8M3498 0h16M3533 0h11M3564 0h10M3593 0h10M3623 0h11M3655 0h10M3685 0h11M3718 0h11M3760 0h10M3780 0h11M4127 0h10M4279 0h10M4431 0h11M4494 0h10M5229 0h10M5774 0h10M5805 0h10M5898 0h11"/></g>
<g id="r855" transform="translate(0,855)"><path class="b" d="M2739-4h26v8h-26zM2765-4h15v8h-15zM2927-4h27v8h-27z"/><path class="r" d="M2740 0h10M2770 0h10M2929 0h10M5836 0h11M5867 0h10"/></g>
<g id="r870" transform="translate(0,870)"><path class="b" d="M167-4h6v8h-6zM236-4h33v8h-33zM295-4h32v8h-32zM327-4h29v8h-29zM356-4h31v8h-31zM387-4h33v8h-33zM420-4h37v8h-37zM481-4h27v8h-27zM1037-4h28v8h-28zM1065-4h26v8h-26zM1098-4h28v8h-28zM1126-4h30v8h-30zM1159-4h35v8h-35zM1222-4h25v8h-25zM1283-4h23v8h-23zM2800-4h35v8h-35zM2927-4h4v8h-4zM2957-4h55v8h-55zM3108-4h3v8h-3zM3168-4h67v8h-67zM3235-4h30v8h-30zM3265-4h31v8h-31zM3296-4h30v8h-30zM3326-4h33v8h-33zM3359-4h37v8h-37zM3421-4h35v8h-35zM3978-4h23v8h-23zM4095-4h29v8h-29zM5005-4h20v8h-20zM5135-4h24v8h-24zM5315-4h42v8h-42zM5740-4h17v8h-17zM6573-4h151v8h-151z"/><path class="r" d="M297 0h10M327 0h9M357 0h10M388 0h10M420 0h10M481 0h11M1038 0h10M1065 0h11M1098 0h10M1129 0h10M1160 0h10M1222 0h11M1285 0h10M2801 0h9M2958 0h10M3237 0h11M3267 0h10M3298 0h10M3330 0h10M3361 0h10M3422 0h12M3979 0h8M4097 0h9M5006 0h10M5138 0h9M5741 0h11M6573 0h94"/></g>
<g id="r885" transform="translate(0,885)"><path class="b" d="M633-4h32v8h-32zM873-4h14v8h-14zM2868-4h27v8h-27zM3574-4h33v8h-33zM3814-4h22v8h-22zM5044-4h34v8h-34z"/><path class="r" d="M634 0h10M873 0h11M2870 0h9M3575 0h8M3815 0h10M5045 0h11"/></g>
<g id="r900" transform="translate(0,900)"><path class="b" d="M1654-4h22v8h-22zM1744-4h25v8h-25zM1793-4h15v8h-15zM1814-4h6v8h-6zM1926-4h27v8h-27zM1975-4h13v8h-13zM1994-4h16v8h-16zM2388-4h25v8h-25zM2476-4h27v8h-27zM2527-4h14v8h-14zM2547-4h17v8h-17zM2607-4h20v8h-20zM2659-4h29v8h-29zM2710-4h13v8h-13zM2899-4h32v8h-32zM4065-4h22v8h-22z"/><path class="r" d="M1655 0h10M1746 0h10M1794 0h11M1928 0h10M1976 0h11M1995 0h11M2389 0h10M2477 0h12M2528 0h12M2660 0h10M2712 0h10M2900 0h10M4066 0h10"/></g>
<g id="r915" transform="translate(0,915)"><path class="r" d="M544 0h10M726 0h10M2810 0h10M3484 0h10M3665 0h10M5076 0h10"/></g>
<g id="r930" transform="translate(0,930)"><path class="b" d="M4036-4h25v8h-25z"/><path class="r" d="M1254 0h11M1314 0h11M2841 0h9M4037 0h10"/></g>
<g id="r945" transform="translate(0,945)"><path class="b" d="M266-4h34v8h-34zM604-4h26v8h-26zM665-4h23v8h-23zM790-4h26v8h-26zM852-4h35v8h-35zM1005-4h48v8h-48zM1345-4h16v8h-16zM1559-4h32v8h-32zM1591-4h25v8h-25zM2294-4h30v8h-30zM2328-4h25v8h-25zM3207-4h26v8h-26zM3543-4h29v8h-29zM3603-4h26v8h-26zM3728-4h26v8h-26zM3844-4h33v8h-33zM3877-4h15v8h-15zM3945-4h52v8h-52zM4460-4h27v8h-27zM4522-4h26v8h-26zM4666-4h9v8h-9zM4695-4h10v8h-10zM4727-4h9v8h-9zM4852-4h9v8h-9zM4881-4h10v8h-10zM4909-4h9v8h-9zM5056-4h4v8h-4zM5261-4h22v8h-22zM5402-4h6v8h-6zM5587-4h4v8h-4zM5645-4h5v8h-5zM5671-4h5v8h-5zM5968-4h28v8h-28zM6041-4h42v8h-42zM6118-4h3v8h-3zM6243-4h23v8h-23zM6310-4h10v8h-10zM6573-4h141v8h-141z"/><path class="r" d="M165 0h10M195 0h11M226 0h10M267 0h9M604 0h11M665 0h10M790 0h11M852 0h11M904 0h10M936 0h11M966 0h11M1007 0h11M1346 0h10M1529 0h10M1560 0h10M1593 0h10M2264 0h11M2295 0h11M2329 0h10M2752 0h9M3105 0h9M3136 0h11M3167 0h10M3208 0h10M3544 0h10M3604 0h10M3729 0h10M3792 0h12M3845 0h10M3877 0h11M3907 0h10M3946 0h10M4462 0h11M4523 0h10M4575 0h10M4605 0h13M4637 0h10M4666 0h12M4695 0h13M4727 0h13M4760 0h11M4790 0h11M4821 0h11M4852 0h11M4881 0h12M4909 0h15M4945 0h10M4975 0h9M5199 0h11M5261 0h10M5312 0h11M5342 0h12M5373 0h11M5403 0h10M5434 0h11M5465 0h11M5496 0h10M5526 0h11M5556 0h11M5587 0h10M5618 0h10M5647 0h13M5681 0h10M5710 0h10M5938 0h11M5969 0h11M6020 0h11M6052 0h10M6083 0h12M6110 0h10M6138 0h11M6167 0h11M6196 0h11M6225 0h10M6255 0h10M6284 0h11M6312 0h11M6343 0h10M6374 0h10M6573 0h94"/></g>
<g id="r960" transform="translate(0,960)"><path class="b" d="M2780-4h14v8h-14zM4006-4h22v8h-22zM5108-4h3v8h-3zM5846-4h33v8h-33zM5898-4h32v8h-32z"/><path class="r" d="M1377 0h9M2781 0h10M4007 0h10M5108 0h10M5847 0h10M5878 0h10M5908 0h10"/></g>
<g id="r975" transform="translate(0,975)"><path class="b" d="M1622-4h26v8h-26zM2355-4h65v8h-65zM2573-4h26v8h-26zM3750-4h10v8h-10zM4368-4h35v8h-35zM5178-4h13v8h-13z"/><path class="r" d="M1623 0h11M1837 0h10M2356 0h12M2570 0h10M4369 0h10M5169 0h10M5815 0h11"/></g>
<g id="r990" transform="translate(0,990)"><path class="b" d="M1404-4h27v8h-27zM4982-4h48v8h-48zM5793-4h15v8h-15zM6047-4h5v8h-5z"/><path class="r" d="M1406 0h10M2720 0h10M4983 0h11M5017 0h10M5785 0h11"/></g>
<g id="r1005" transform="translate(0,1005)"><path class="b" d="M1714-4h30v8h-30zM1763-4h9v8h-9zM1895-4h25v8h-25zM5930-4h3v8h-3z"/><path class="r" d="M1715 0h10M1774 0h10M1896 0h10M1956 0h10M1986 0h11M2018 0h11M2049 0h11M2450 0h10M2508 0h11M2630 0h9M2690 0h10"/></g>
<g id="r1020" transform="translate(0,1020)"><path class="b" d="M513-4h28v8h-28zM573-4h31v8h-31zM695-4h21v8h-21zM716-4h40v8h-40zM756-4h35v8h-35zM1434-4h54v8h-54zM2077-4h44v8h-44zM2861-4h4v8h-4zM3453-4h34v8h-34zM3507-4h39v8h-39zM3634-4h20v8h-20zM3654-4h32v8h-32zM3695-4h36v8h-36z"/><path class="r" d="M514 0h9M573 0h11M695 0h10M758 0h10M1435 0h11M2078 0h10M3454 0h10M3514 0h10M3635 0h10M3696 0h10"/></g>
<g id="r1050" transform="translate(0,1050)"><path class="b" d="M140-4h27v8h-27zM167-4h32v8h-32zM199-4h37v8h-37zM236-4h37v8h-37zM895-4h50v8h-50zM945-4h30v8h-30zM975-4h88v8h-88zM3082-4h11v8h-11zM3093-4h15v8h-15zM3108-4h31v8h-31zM3139-4h119v8h-119zM3834-4h10v8h-10zM3844-4h153v8h-153zM4554-4h32v8h-32zM4586-4h34v8h-34zM4676-4h30v8h-30zM4706-4h24v8h-24zM4740-4h32v8h-32zM4772-4h25v8h-25zM4801-4h31v8h-31zM4832-4h10v8h-10zM4861-4h23v8h-23zM4922-4h35v8h-35zM5414-4h20v8h-20zM5475-4h31v8h-31zM5506-4h30v8h-30zM5536-4h13v8h-13zM5645-4h26v8h-26zM5671-4h45v8h-45zM5718-4h49v8h-49zM6176-4h20v8h-20zM6196-4h9v8h-9zM6205-4h95v8h-95zM6339-4h14v8h-14zM6353-4h159v8h-159zM6569-4h298v8h-298z"/><path class="r" d="M143 0h10M175 0h10M205 0h11M236 0h10M883 0h10M914 0h11M945 0h12M977 0h10M3083 0h10M3114 0h11M3147 0h10M3177 0h10M3824 0h10M3856 0h10M3887 0h10M3918 0h10M4555 0h10M4585 0h10M4617 0h10M4647 0h11M4677 0h11M4708 0h10M4741 0h10M4772 0h10M4801 0h11M4832 0h9M4862 0h10M4893 0h10M4923 0h11M4955 0h10M5292 0h10M5323 0h10M5353 0h11M5383 0h10M5415 0h10M5444 0h11M5476 0h10M5506 0h10M5536 0h11M5566 0h11M5597 0h10M5627 0h11M5660 0h11M5690 0h10M5719 0h10M6031 0h11M6061 0h11M6090 0h10M6119 0h11M6148 0h10M6178 0h10M6207 0h9M6235 0h10M6265 0h10M6295 0h8M6324 0h10M6353 0h11M6384 0h32M6573 0h94"/></g>
<g id="r1080" transform="translate(0,1080)"><path class="r" d="M1684 0h11M1805 0h10M1866 0h11M2419 0h10M2539 0h11M2600 0h10"/></g>
<g id="r1095" transform="translate(0,1095)"><path class="b" d="M844-4h4v8h-4z"/></g>
<g id="r1125" transform="translate(0,1125)"><path class="b" d="M266-4h3v8h-3zM1559-4h6v8h-6zM5971-4h4v8h-4z"/><path class="r" d="M6000 0h10"/></g>
<g id="r1140" transform="translate(0,1140)"><path class="b" d="M5846-4h7v8h-7z"/></g>
<g id="r1170" transform="translate(0,1170)"><path class="r" d="M5753 0h11"/></g>
<g id="r1230" transform="translate(0,1230)"><path class="b" d="M6573-4h3v8h-3z"/></g>
</g>
</svg>
